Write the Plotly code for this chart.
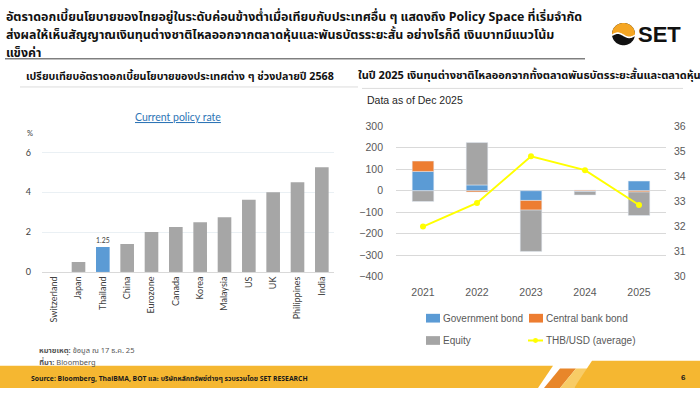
import math
import plotly.graph_objects as go

W, H = 700, 394

# ---------------- data ----------------
countries = ["Switzerland", "Japan", "Thailand", "China", "Eurozone", "Canada",
             "Korea", "Malaysia", "US", "UK", "Philippines", "India"]
policy_rate = [0.0, 0.5, 1.25, 1.4, 2.0, 2.25, 2.5, 2.75, 3.625, 4.0, 4.5, 5.25]
highlight_country = "Thailand"
rate_ticks = [0, 2, 4, 6]

years = ["2021", "2022", "2023", "2024", "2025"]
gov_bond = [90, 27, -45, -3, 45]
cb_bond = [48, -6, -45, 3, -6]
equity = [-50, 197, -192, -17, -109]
thb_usd = [32.0, 32.94, 34.8, 34.25, 32.86]
flow_ticks = [-400, -300, -200, -100, 0, 100, 200, 300]
fx_ticks = [30, 31, 32, 33, 34, 35, 36]

# ---------------- helpers ----------------
def px(x):
    return x / W

def py(y):
    return 1 - y / H

THAI = "Noto Sans Thai, Noto Sans Thai Looped, Tahoma, Loma, Garuda, Noto Sans, DejaVu Sans, sans-serif"
ARIAL = "Liberation Sans, Arial, sans-serif"
CAL = "Lato, Open Sans, sans-serif"

BLUE = "#5B9BD5"
ORANGE = "#ED7D31"
GRAY = "#A5A5A5"
YELLOW = "#FFFF00"
GOLD = "#F5B731"

fig = go.Figure()

# ---------------- left chart ----------------
bar_colors = [BLUE if c == highlight_country else "#A6A6A6" for c in countries]
bar_text = [f"{v:g}" if c == highlight_country else "" for c, v in zip(countries, policy_rate)]
fig.add_trace(go.Bar(
    x=countries, y=policy_rate, marker=dict(color=bar_colors, line=dict(width=0)),
    width=0.56, text=bar_text, textposition="outside", cliponaxis=False,
    textfont=dict(family=CAL, size=9, color="#404040"),
    xaxis="x", yaxis="y", showlegend=False, hoverinfo="x+y",
))

# ---------------- right chart ----------------
fig.add_trace(go.Bar(x=years, y=gov_bond, name="Government bond", marker_color=BLUE,
                     width=0.4, xaxis="x2", yaxis="y2", showlegend=False))
fig.add_trace(go.Bar(x=years, y=cb_bond, name="Central bank bond", marker_color=ORANGE,
                     width=0.4, xaxis="x2", yaxis="y2", showlegend=False))
fig.add_trace(go.Bar(x=years, y=equity, name="Equity", marker_color=GRAY,
                     width=0.4, xaxis="x2", yaxis="y2", showlegend=False))
fig.add_trace(go.Scatter(x=years, y=thb_usd, name="THB/USD (average)", mode="lines+markers",
                         line=dict(color=YELLOW, width=2), marker=dict(color=YELLOW, size=6),
                         xaxis="x2", yaxis="y3", showlegend=False))

fig.update_layout(
    width=W, height=H, margin=dict(l=0, r=0, t=0, b=0),
    paper_bgcolor="white", plot_bgcolor="white",
    barmode="relative",
    font=dict(family=ARIAL, size=10, color="#404040"),
    xaxis=dict(domain=[px(42), px(334)], anchor="y", tickangle=-90,
               tickfont=dict(family=CAL, size=9, color="#404040"),
               showline=True, linecolor="#D9D9D9", linewidth=1, showgrid=False,
               ticks="", fixedrange=True),
    yaxis=dict(domain=[py(274.3), py(146.9)], anchor="x", range=[0, 6.2],
               tickvals=rate_ticks, tickfont=dict(family=CAL, size=9, color="#404040"),
               showgrid=True, gridcolor="#EAF0F4", zeroline=False, showline=False,
               ticks="", ticklabelstandoff=10),
    xaxis2=dict(domain=[px(396), px(666)], anchor="y2",
                tickfont=dict(family=ARIAL, size=10.5, color="#595959"),
                showline=False, showgrid=False, ticks="", ticklabelstandoff=8),
    yaxis2=dict(domain=[py(279.3), py(124)], anchor="x2", range=[-400, 300],
                tickvals=flow_ticks, tickfont=dict(family=ARIAL, size=10.5, color="#595959"),
                showgrid=True, gridcolor="#D9D9D9", zeroline=False, showline=False,
                ticks="", ticklabelstandoff=12),
    yaxis3=dict(overlaying="y2", side="right", anchor="x2", range=[30, 36],
                tickvals=fx_ticks, tickfont=dict(family=ARIAL, size=10.5, color="#595959"),
                showgrid=False, zeroline=False, showline=False, ticks="",
                ticklabelstandoff=7),
)

shapes = []
ann = []

def text(x, y, s, size, color="#222", family=THAI, xanchor="left", yanchor="middle", **kw):
    ann.append(dict(x=px(x), y=py(y), xref="paper", yref="paper", text=s, showarrow=False,
                    xanchor=xanchor, yanchor=yanchor, align="left",
                    font=dict(size=size, color=color, family=family), **kw))

def line(x0, y0, x1, y1, color, width=1):
    shapes.append(dict(type="line", xref="paper", yref="paper", x0=px(x0), y0=py(y0),
                       x1=px(x1), y1=py(y1), line=dict(color=color, width=width)))

def rect(x0, y0, x1, y1, color):
    shapes.append(dict(type="rect", xref="paper", yref="paper", x0=px(x0), y0=py(y0),
                       x1=px(x1), y1=py(y1), fillcolor=color, line=dict(width=0)))

def poly(points, color):
    d = "M " + " L ".join(f"{px(a):.5f},{py(b):.5f}" for a, b in points) + " Z"
    shapes.append(dict(type="path", xref="paper", yref="paper", path=d,
                       fillcolor=color, line=dict(width=0)))

# ---------------- title ----------------
TS = 12.4
text(4, 11.5, "<b>อัตราดอกเบี้ยนโยบายของไทยอยู่ในระดับค่อนข้างต่ำเมื่อเทียบกับประเทศอื่น ๆ แสดงถึง Policy Space ที่เริ่มจำกัด</b>", TS, color="#111")
text(4, 30.5, "<b>ส่งผลให้เห็นสัญญาณเงินทุนต่างชาติไหลออกจากตลาดหุ้นและพันธบัตรระยะสั้น อย่างไรก็ดี เงินบาทมีแนวโน้ม</b>", TS, color="#111")
text(4, 48.5, "<b>แข็งค่า</b>", TS, color="#111")
line(5, 54.5, 585, 54.5, "#404040", 1)

# ---------------- SET logo ----------------
cx, cy, r = 623.5, 29, 11.5
circ = [(cx + r * math.cos(t / 60 * 2 * math.pi), cy + r * math.sin(t / 60 * 2 * math.pi)) for t in range(60)]
poly(circ, "#111111")
wave = [(cx - r + 2 * r * i / 30, cy + 1.2 - 2.2 * math.sin(math.pi * i / 15)) for i in range(31)]
upper = [(cx - r * math.cos(t / 30 * math.pi), cy - r * math.sin(t / 30 * math.pi)) for t in range(31)]
poly(upper + list(reversed(wave)), "#F5A623")
shapes.append(dict(type="path", xref="paper", yref="paper",
                   path="M " + " L ".join(f"{px(a):.5f},{py(b):.5f}" for a, b in wave),
                   line=dict(color="white", width=1.6)))
text(636, 29.5, "<b>SET</b>", 22, color="#111", family="Liberation Sans, Arial, sans-serif")

# ---------------- section headers ----------------
text(24, 73, "<b>เปรียบเทียบอัตราดอกเบี้ยนโยบายของประเทศต่าง ๆ ช่วงปลายปี 2568</b>", 10.7, color="#111")
line(20, 83.5, 358, 83.5, "#DCDCDC", 1)
text(356, 72, "<b>ในปี 2025 เงินทุนต่างชาติไหลออกจากทั้งตลาดพันธบัตรระยะสั้นและตลาดหุ้น</b>", 11, color="#111")
line(362, 85, 683, 85, "#DCDCDC", 1)

# ---------------- left chart labels ----------------
text(178, 114, "<u>Current policy rate</u>", 10.5, color="#2E75B6", family=CAL, xanchor="center")
text(25, 131, "%", 7.5, color="#404040", family=CAL)
text(37, 355, "<b>หมายเหตุ:</b> ข้อมูล ณ 17 ธ.ค. 25", 7.5, color="#555")
text(37, 368, "<b>ที่มา:</b> Bloomberg", 7.5, color="#555")

# ---------------- right chart labels & legend ----------------
LS = 10
text(365, 97, "Data as of Dec 2025", 10.5, color="#262626", family=ARIAL)
rect(426, 317.5, 440, 326.5, BLUE)
text(441, 322, "Government bond", LS, color="#595959", family=ARIAL)
rect(529, 317.5, 543, 326.5, ORANGE)
text(544, 322, "Central bank bond", LS, color="#595959", family=ARIAL)
rect(426, 340.5, 440, 349.5, GRAY)
text(441, 345, "Equity", LS, color="#595959", family=ARIAL)
line(528, 345, 543, 345, YELLOW, 2)
shapes.append(dict(type="circle", xref="paper", yref="paper", x0=px(533), y0=py(347.5),
                   x1=px(538), y1=py(342.5), fillcolor=YELLOW, line=dict(width=0)))
text(544, 345, "THB/USD (average)", LS, color="#595959", family=ARIAL)

# ---------------- footer ----------------
poly([(0, 371), (553, 371), (538, 394), (0, 394)], GOLD)
poly([(544, 394), (560, 374), (576, 374), (560, 394)], "#E8862A")
poly([(560, 394), (576, 374), (590, 374), (574, 394)], "#F8CC66")
poly([(574, 394), (592, 366), (700, 366), (700, 394)], GOLD)
text(29, 384.5, "<b>Source: Bloomberg, ThaiBMA, BOT และ บริษัทหลักทรัพย์ต่างๆ รวบรวมโดย SET RESEARCH</b>", 6.8, color="#1a1a1a")
text(683, 383, "<b>6</b>", 8, color="#1a1a1a", family=ARIAL, xanchor="center")

fig.update_layout(shapes=shapes, annotations=ann)
fig.write_html("out.html",
               config={"displayModeBar": False},
               post_script="document.body.style.margin='0';document.body.style.padding='0';"
                           "document.documentElement.style.overflow='hidden';")
